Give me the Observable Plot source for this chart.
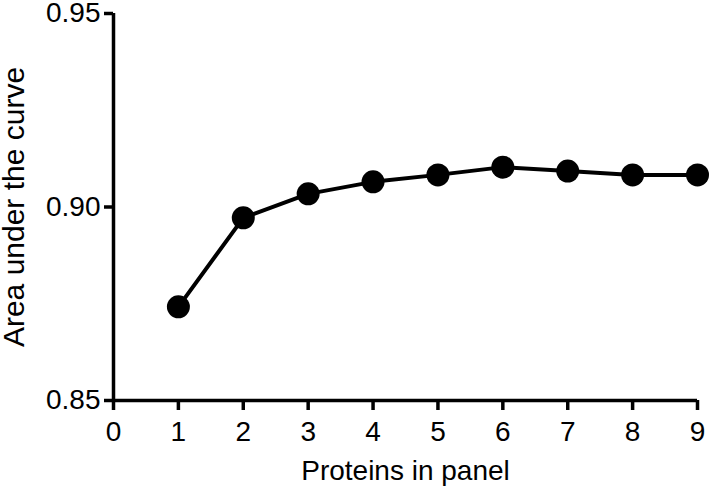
<!DOCTYPE html>
<html>
<head>
<meta charset="utf-8">
<script src="https://cdn.jsdelivr.net/npm/d3@7"></script>
<script src="https://cdn.jsdelivr.net/npm/@observablehq/plot@0.6"></script>
<style>
  html, body { margin: 0; padding: 0; background: #fff; }
</style>
</head>
<body>
<div id="chart"></div>
<script>
const proteins = [1, 2, 3, 4, 5, 6, 7, 8, 9];
const auc = [0.8742, 0.8972, 0.9034, 0.9065, 0.9083, 0.9103, 0.9093, 0.9083, 0.9083];
const xTicks = [0, 1, 2, 3, 4, 5, 6, 7, 8, 9];
const yTicks = [0.85, 0.90, 0.95];
const xLabel = "Proteins in panel";
const yLabel = "Area under the curve";

const data = proteins.map((p, i) => ({p, v: auc[i]}));

const chart = Plot.plot({
  width: 709,
  height: 490,
  marginLeft: 113,
  marginRight: 12,
  marginTop: 13,
  marginBottom: 90,
  style: {fontFamily: "'Liberation Sans', Arial, sans-serif", color: "#000", background: "#fff"},
  x: {domain: [0, 9]},
  y: {domain: [0.85, 0.95]},
  marks: [
    Plot.axisX({ticks: xTicks, tickSize: 10, strokeWidth: 3.5, tickPadding: 11, fontSize: 28, label: null, tickFormat: d3.format("d")}),
    Plot.axisY({ticks: yTicks, tickSize: 9, strokeWidth: 3.5, tickPadding: 4, fontSize: 28, label: null, tickFormat: d3.format(".2f")}),
    Plot.ruleX([0], {strokeWidth: 3.5}),
    Plot.ruleY([0.85], {strokeWidth: 3.5}),
    Plot.line(data, {x: "p", y: "v", stroke: "#000", strokeWidth: 4}),
    Plot.dot(data, {x: "p", y: "v", r: 11.5, fill: "#000", stroke: "none"}),
    Plot.text([xLabel], {frameAnchor: "bottom", dy: 79, fontSize: 28, fill: "#000"}),
    Plot.text([yLabel], {frameAnchor: "left", textAnchor: "middle", dx: -99, rotate: -90, fontSize: 30, fill: "#000"})
  ]
});
document.getElementById("chart").appendChild(chart);
</script>
</body>
</html>
